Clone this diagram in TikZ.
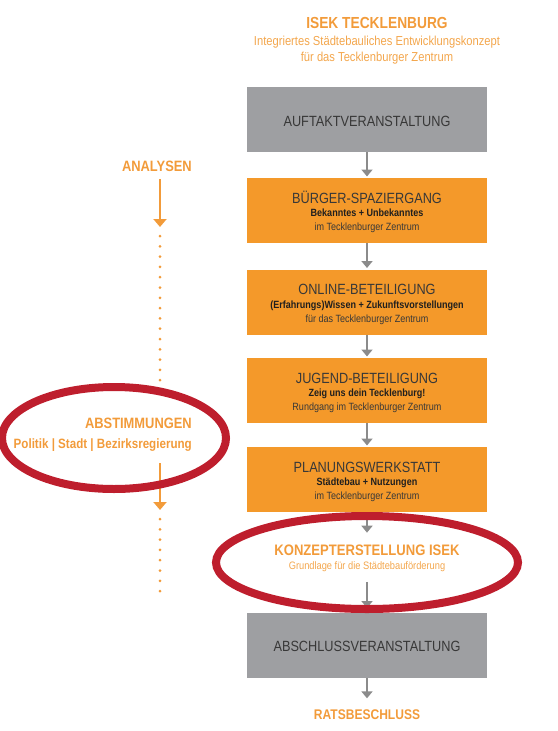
\documentclass[tikz,border=0pt]{standalone}
\usepackage{fontspec}
\setmainfont{Liberation Sans}[FakeStretch=0.86]
\usetikzlibrary{arrows.meta,calc}
\definecolor{boxorange}{HTML}{F4992A}
\definecolor{txtorange}{HTML}{F29B3A}
\definecolor{lightorange}{HTML}{F3A64C}
\definecolor{boxgray}{HTML}{9E9FA2}
\definecolor{arrgray}{HTML}{8B8B8B}
\definecolor{ellred}{HTML}{BE1E2D}
\definecolor{darktxt}{HTML}{383838}
\begin{document}
\begin{tikzpicture}[x=1pt,y=-1pt,
  box/.style={minimum width=240pt, minimum height=65pt, inner sep=0pt, outer sep=0pt},
  obox/.style={box, fill=boxorange},
  gbox/.style={box, fill=boxgray},
  boxttl/.style={anchor=base, inner sep=0pt, text=darktxt, font=\fontsize{14.8}{16}\selectfont},
  boxsub/.style={anchor=base, inner sep=0pt, text=black!88, font=\bfseries\fontsize{10.5}{12}\selectfont},
  boxnrm/.style={anchor=base, inner sep=0pt, text=darktxt, font=\fontsize{10.5}{12}\selectfont},
  otitle/.style={inner sep=0pt, text=txtorange, font=\bfseries\fontsize{14.5}{16}\selectfont},
  osub/.style={inner sep=0pt, text=lightorange, font=\fontsize{13}{15}\selectfont},
  garrow/.style={draw=arrgray, line width=2pt, -{Triangle[width=11pt,length=7pt]}},
  oarrow/.style={draw=txtorange, line width=2pt, -{Triangle[width=13pt,length=8pt]}},
  dotline/.style={draw=txtorange, line width=3pt, line cap=round, dash pattern=on 0pt off 10.3pt},
  ring/.style={draw=ellred, line width=8pt}]
\useasboundingbox (0,0) rectangle (557,731);

% header
\node[otitle, anchor=base, font=\bfseries\fontsize{16}{18}\selectfont] (head) at (377,28.3) {ISEK TECKLENBURG};
\node[osub, anchor=base] (head1) at (377,45.3) {Integriertes Städtebauliches Entwicklungskonzept};
\node[osub, anchor=base] (head2) at (377,61) {für das Tecklenburger Zentrum};

% boxes
\node[gbox] (b1) at (367,119.5) {};
\node[boxttl] (b1t) at ($(b1.north)+(0,39.7)$) {AUFTAKTVERANSTALTUNG};

\node[obox] (b2) at (367,210.5) {};
\node[boxttl] (b2t) at ($(b2.north)+(0,25)$) {BÜRGER-SPAZIERGANG};
\node[boxsub] (b2s) at ($(b2.north)+(0,38.8)$) {Bekanntes + Unbekanntes};
\node[boxnrm] (b2n) at ($(b2.north)+(0,52.7)$) {im Tecklenburger Zentrum};

\node[obox] (b3) at (367,302) {};
\node[boxttl] (b3t) at ($(b3.north)+(0,25)$) {ONLINE-BETEILIGUNG};
\node[boxsub] (b3s) at ($(b3.north)+(0,38.8)$) {(Erfahrungs)Wissen + Zukunftsvorstellungen};
\node[boxnrm] (b3n) at ($(b3.north)+(0,52.7)$) {für das Tecklenburger Zentrum};

\node[obox] (b4) at (367,390.5) {};
\node[boxttl] (b4t) at ($(b4.north)+(0,25)$) {JUGEND-BETEILIGUNG};
\node[boxsub] (b4s) at ($(b4.north)+(0,38.8)$) {Zeig uns dein Tecklenburg!};
\node[boxnrm] (b4n) at ($(b4.north)+(0,52.7)$) {Rundgang im Tecklenburger Zentrum};

\node[obox] (b5) at (367,479.5) {};
\node[boxttl] (b5t) at ($(b5.north)+(0,25)$) {PLANUNGSWERKSTATT};
\node[boxsub] (b5s) at ($(b5.north)+(0,38.8)$) {Städtebau + Nutzungen};
\node[boxnrm] (b5n) at ($(b5.north)+(0,52.7)$) {im Tecklenburger Zentrum};

\node[otitle, anchor=base, font=\bfseries\fontsize{15.2}{17}\selectfont] (kz) at (367,555) {KONZEPTERSTELLUNG ISEK};
\node[osub, anchor=base, font=\fontsize{10.8}{12}\selectfont] (kzs) at (367,569.5) {Grundlage für die Städtebauförderung};

\node[gbox] (b6) at (367,645.5) {};
\node[boxttl] (b6t) at ($(b6.north)+(0,38.7)$) {ABSCHLUSSVERANSTALTUNG};

\node[otitle, anchor=base, font=\bfseries\fontsize{14}{16}\selectfont] (rb) at (367,719.3) {RATSBESCHLUSS};

% flow arrows
\draw[garrow, shorten >=1.5pt] (b1.south) -- (b2.north);
\draw[garrow, shorten >=1.5pt] (b2.south) -- (b3.north);
\draw[garrow, shorten >=1.5pt] (b3.south) -- (b4.north);
\draw[garrow, shorten >=1.5pt] (b4.south) -- (b5.north);
\draw[garrow, shorten >=11.5pt] (b5.south) -- (kz.north);
\draw[garrow, shorten <=10pt, shorten >=5pt] (kzs.south) -- (b6.north);
\draw[garrow, shorten >=11pt] (b6.south) -- (rb.north);

% left column
\node[otitle, anchor=base east, font=\bfseries\fontsize{15}{17}\selectfont] (an) at (192,171.5) {ANALYSEN};
\coordinate (an1) at (160,179);
\coordinate (an2) at (160,227);
\coordinate (d1a) at (160,236);
\coordinate (d1b) at (160,400);
\draw[oarrow] (an1) -- (an2);
\draw[dotline] (d1a) -- (d1b);

\node[otitle, anchor=base east, font=\bfseries\fontsize{15}{17}\selectfont] (ab) at (192,428) {ABSTIMMUNGEN};
\node[otitle, anchor=base east, font=\bfseries\fontsize{13.5}{15}\selectfont] (pol) at (192,448) {Politik | Stadt | Bezirksregierung};
\coordinate (ab1) at (160,463);
\coordinate (ab2) at (160,510);
\coordinate (d2a) at (160,519);
\coordinate (d2b) at (160,594);
\draw[oarrow] (ab1) -- (ab2);
\draw[dotline] (d2a) -- (d2b);

% red highlight rings
\draw[ring] (114,438) ellipse [x radius=112, y radius=51];
\draw[ring] (367,562.5) ellipse [x radius=151, y radius=46.5];
\end{tikzpicture}
\end{document}
